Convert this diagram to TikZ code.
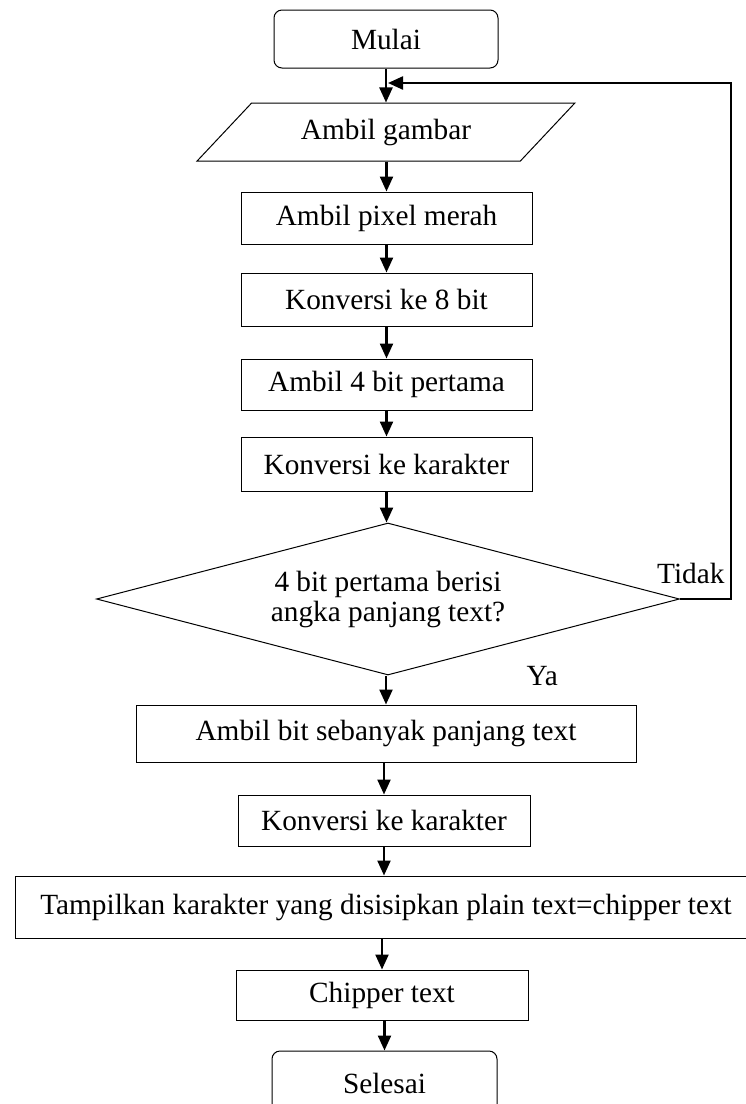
\documentclass[tikz,border=0pt]{standalone}
\usepackage{fontspec}
\setmainfont{Liberation Serif}
\usetikzlibrary{arrows.meta,shapes.geometric}
\begin{document}
\begin{tikzpicture}[x=1pt,y=-1pt,
  font=\fontsize{29.3}{30}\selectfont,
  base/.style={draw=black,line width=1pt,inner sep=0pt,align=center},
  procbox/.style={base,rectangle,minimum width=#1},
  termbox/.style={base,rectangle,rounded corners=8pt,minimum width=224pt,minimum height=58pt},
  iobox/.style={base,trapezium,trapezium left angle=37.7,trapezium right angle=142.3,
    trapezium stretches=true,minimum width=378pt,minimum height=58pt},
  decbox/.style={base,diamond,shape aspect=3.8,minimum width=583pt,minimum height=152pt},
  flow/.style={line width=2.3pt,-{Triangle[length=15pt,width=13pt]}},
]
\useasboundingbox (0,0) rectangle (746,1104);

\node[termbox] (start) at (386,39) {Mulai};
\node[iobox] (img) at (386,132) {Ambil gambar};
\node[procbox=291pt,minimum height=52pt] (red) at (386.5,218) {Ambil pixel merah};
\node[procbox=291pt,minimum height=53pt] (bin8) at (386.5,299.5) {Konversi ke 8 bit};
\node[procbox=291pt,minimum height=51pt] (first4) at (386.5,384.5) {Ambil 4 bit pertama};
\node[procbox=291pt,minimum height=54pt] (chr1) at (386.5,464) {Konversi ke karakter};
\node[decbox] (dec) at (388,599) {4 bit pertama berisi\\angka panjang text?};
\node[procbox=500pt,minimum height=57pt] (bits) at (386,733.5) {Ambil bit sebanyak panjang text};
\node[procbox=292pt,minimum height=51pt] (chr2) at (384,820.5) {Konversi ke karakter};
\node[procbox=742pt,minimum height=62pt] (show) at (386,907) {Tampilkan karakter yang disisipkan plain text=chipper text};
\node[procbox=292pt,minimum height=50pt] (cipher) at (382,995) {Chipper text};
\node[termbox,minimum width=225pt,minimum height=64pt] (stop) at (384.5,1083) {Selesai};

\node[anchor=base east] (no) at (728,583) {Tidak};
\node[anchor=base west] (yes) at (523,685) {Ya};

\coordinate (join) at (388,83);

\draw[flow] (start.south) -- (start.south |- img.north);
\draw[flow] (img.south -| red.north) -- (red.north);
\draw[flow] (red.south) -- (bin8.north);
\draw[flow] (bin8.south) -- (first4.north);
\draw[flow] (first4.south) -- (chr1.north);
\draw[flow] (chr1.south) -- (chr1.south |- dec.north);
\draw[flow] (dec.south -| bits.north) -- (bits.north);
\draw[flow] (bits.south -| chr2.north) -- (chr2.north);
\draw[flow] (chr2.south) -- (chr2.south |- show.north);
\draw[flow] (show.south -| cipher.north) -- (cipher.north);
\draw[flow] (cipher.south -| stop.north) -- (stop.north);
\draw[flow] (dec.east) -- ++(51,0) |- (join);
\end{tikzpicture}
\end{document}
